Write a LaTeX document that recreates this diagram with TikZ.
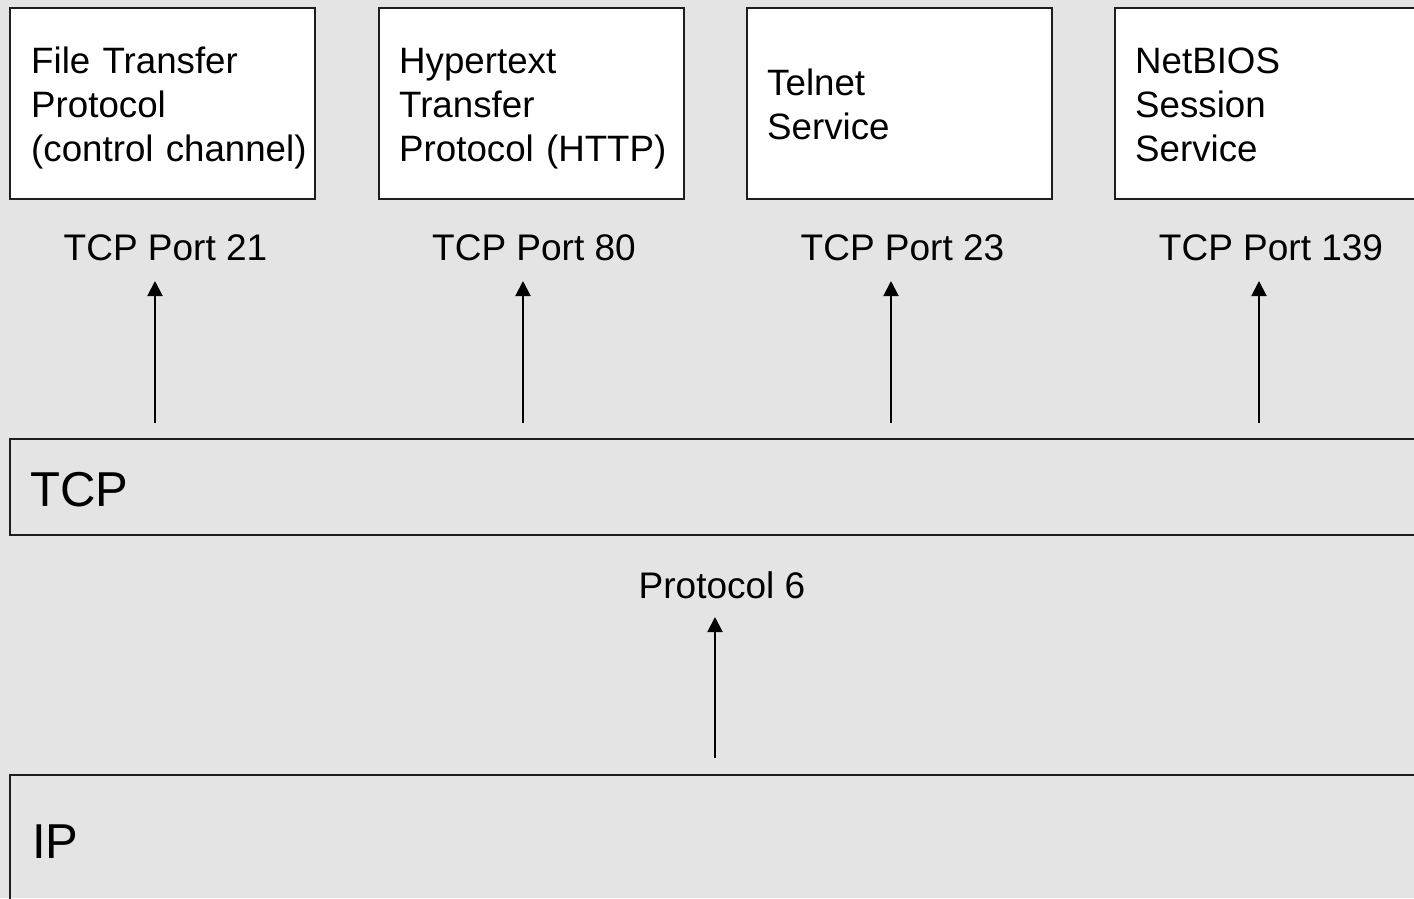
\documentclass[tikz,border=0pt]{standalone}
\usepackage{fontspec}
\setmainfont{Liberation Sans}
\usetikzlibrary{arrows.meta}
\definecolor{slidebg}{HTML}{E4E4E4}
\definecolor{edgeink}{HTML}{1E1E1E}
\begin{document}
\begin{tikzpicture}[x=1pt,y=-1pt,
  svcbox/.style={draw=edgeink, line width=2pt, fill=white, anchor=north west,
    minimum width=305pt, minimum height=191pt, inner sep=0pt, outer sep=0pt},
  layerbox/.style={draw=edgeink, line width=2pt, anchor=north west,
    minimum width=1420pt, inner sep=0pt, outer sep=0pt},
  svctext/.style={font=\fontsize{36.7}{44}\selectfont, align=left, text width=290pt,
    inner sep=0pt, anchor=base west},
  portlabel/.style={font=\fontsize{37}{44}\selectfont, inner sep=0pt, anchor=base},
  layertext/.style={font=\fontsize{49}{58}\selectfont, inner sep=0pt, anchor=base west},
  arr/.style={-{Triangle[length=15pt,width=15pt]}, line width=2pt, draw=black}]
\useasboundingbox (0,0) rectangle (1414,898);
\fill[slidebg] (0,0) rectangle (1414,898);

\begin{scope}
  \clip (0,0) rectangle (1414,898);
  % application services
  \node[svcbox] (ftp) at (10,8) {};
  \node[svcbox] (http) at (379,8) {};
  \node[svcbox] (telnet) at (747,8) {};
  \node[svcbox] (netbios) at (1115,8) {};
  % transport and network layers
  \node[layerbox, minimum height=96pt] (tcp) at (10,439) {};
  \node[layerbox, minimum height=140pt] (ip) at (10,775) {};
\end{scope}

% service names
\node[svctext] (ftptext) at (31,73) {File Transfer\\Protocol\\(control channel)};
\node[svctext] (httptext) at (399,73) {Hypertext\\Transfer\\Protocol (HTTP)};
\node[svctext] (telnettext) at (767,95) {Telnet\\Service};
\node[svctext] (netbiostext) at (1135,73) {NetBIOS\\Session\\Service};

% port numbers
\node[portlabel] (p21) at (165.5,260) {TCP Port 21};
\node[portlabel] (p80) at (534,260) {TCP Port 80};
\node[portlabel] (p23) at (902.5,260) {TCP Port 23};
\node[portlabel] (p139) at (1271,260) {TCP Port 139};

% layer names
\node[layertext] (tcptext) at (30,506) {TCP};
\node[layertext] (iptext) at (32,858) {IP};
\node[portlabel] (proto) at (722,598) {Protocol 6};

% arrow columns
\coordinate (c21) at (155,0);
\coordinate (c80) at (523,0);
\coordinate (c23) at (891,0);
\coordinate (c139) at (1259,0);
\coordinate (cproto) at (715,0);

\draw[arr, shorten <=16pt, shorten >=21pt] (tcp.north -| c21) -- (p21.base -| c21);
\draw[arr, shorten <=16pt, shorten >=21pt] (tcp.north -| c80) -- (p80.base -| c80);
\draw[arr, shorten <=16pt, shorten >=21pt] (tcp.north -| c23) -- (p23.base -| c23);
\draw[arr, shorten <=16pt, shorten >=21pt] (tcp.north -| c139) -- (p139.base -| c139);
\draw[arr, shorten <=17pt, shorten >=19pt] (ip.north -| cproto) -- (proto.base -| cproto);
\end{tikzpicture}
\end{document}
